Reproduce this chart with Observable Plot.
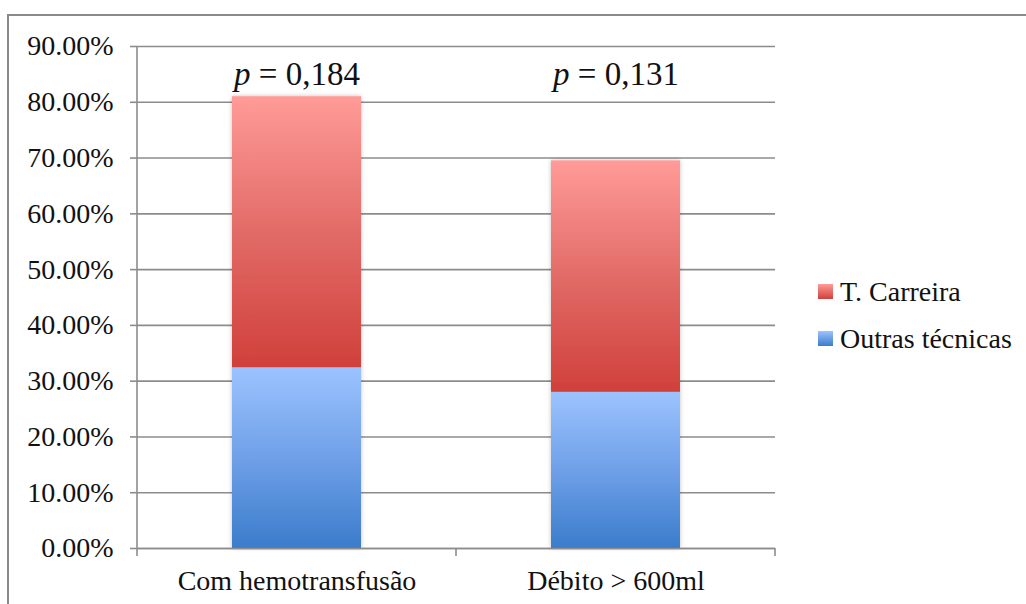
<!DOCTYPE html>
<html>
<head>
<meta charset="utf-8">
<script src="https://cdn.jsdelivr.net/npm/d3@7"></script>
<script src="https://cdn.jsdelivr.net/npm/@observablehq/plot@0.6"></script>
<style>
  html, body { margin: 0; padding: 0; background: #fff; }
  #wrap { position: relative; width: 1026px; height: 604px; overflow: hidden; font-family: "Liberation Serif", serif; }
  #border { position: absolute; left: 7px; top: 14px; width: 1030px; height: 700px; border-left: 2px solid #8a8a8a; border-top: 2px solid #8a8a8a; }
  #chart { position: absolute; left: 0; top: 0; }
  #legend { position: absolute; left: 818px; top: 268px; font-size: 28px; color: #111; }
  .item { display: flex; align-items: center; height: 47px; }
  .sw { width: 15px; height: 15px; margin-right: 7px; }
</style>
</head>
<body>
<div id="wrap">
  <div id="border"></div>
  <div id="chart"></div>
  <div id="legend"></div>
</div>
<script>
// Categories and series (percentages)
const categories = ["Com hemotransfusão", "Débito > 600ml"];
const series = ["Outras técnicas", "T. Carreira"];
const outrasTecnicas = [32.4, 28.0];
const tCarreira = [48.6, 41.5];
const pValues = ["0,184", "0,131"];
const yTicks = [0, 10, 20, 30, 40, 50, 60, 70, 80, 90];

// Gradient fills, top colour to bottom colour
const gradients = {
  "T. Carreira": {id: "gradRed", top: "#ff9b98", mid: "#e26b67", bottom: "#d0403b"},
  "Outras técnicas": {id: "gradBlue", top: "#9cc3ff", mid: "#6fa0e8", bottom: "#3b7ccb"}
};

const rows = [];
categories.forEach((c, i) => {
  rows.push({category: c, series: series[0], value: outrasTecnicas[i] / 100});
  rows.push({category: c, series: series[1], value: tCarreira[i] / 100});
});
const totals = categories.map((c, i) => ({category: c, total: (outrasTecnicas[i] + tCarreira[i]) / 100, p: pValues[i]}));

const grid = "#8c8c8c";

const plot = Plot.plot({
  width: 1026,
  height: 604,
  marginLeft: 137,
  marginRight: 251,
  marginTop: 46,
  marginBottom: 56,
  style: {fontFamily: "Liberation Serif, serif", fontSize: "28px", color: "#111", background: "transparent"},
  x: {domain: categories, paddingInner: 0.596, paddingOuter: 0.298, label: null},
  y: {domain: [0, 0.9], label: null},
  color: {domain: series, range: series.map(s => `url(#${gradients[s].id})`)},
  marks: [
    Plot.gridY(yTicks.map(t => t / 100), {stroke: grid, strokeOpacity: 1, strokeWidth: 1.6}),
    Plot.axisY(yTicks.map(t => t / 100), {
      tickFormat: d3.format(".2%"), tickSize: 7, tickPadding: 17, stroke: grid, strokeWidth: 1.6,
      fontSize: 28, fill: "#111"
    }),
    Plot.barY(rows, Plot.stackY({x: "category", y: "value", fill: "series", className: "bars"})),
    Plot.ruleY([0], {stroke: grid, strokeWidth: 1.6}),
    Plot.axisX({tickSize: 0, tickPadding: 22, fontSize: 28, fill: "#111"}),
    Plot.text(totals, {x: "category", text: d => "p = " + d.p, frameAnchor: "top", lineAnchor: "middle", dy: 28, fontSize: 33, fill: "#111", className: "pval"})
  ]
});

// Gradient and shadow definitions
const svg = d3.select(plot);
const defs = svg.insert("defs", ":first-child");
for (const s of series) {
  const g = gradients[s];
  const lg = defs.append("linearGradient").attr("id", g.id).attr("x1", 0).attr("y1", 0).attr("x2", 0).attr("y2", 1);
  lg.append("stop").attr("offset", "0%").attr("stop-color", g.top);
  lg.append("stop").attr("offset", "50%").attr("stop-color", g.mid);
  lg.append("stop").attr("offset", "100%").attr("stop-color", g.bottom);
}
const f = defs.append("filter").attr("id", "shadow").attr("x", "-10%").attr("y", "-10%").attr("width", "120%").attr("height", "120%");
f.append("feDropShadow").attr("dx", 0).attr("dy", 0).attr("stdDeviation", 2).attr("flood-color", "#000").attr("flood-opacity", 0.25);
svg.selectAll("g.bars").attr("filter", "url(#shadow)");

// Y axis line and category divider ticks along the x axis
const xs = plot.scale("x");
const ys = plot.scale("y");
const [x0] = xs.range;
const yBase = ys.apply(0);
const yTop = ys.apply(0.9);
const axes = svg.append("g").attr("stroke", grid).attr("stroke-width", 1.6);
axes.append("line").attr("x1", x0).attr("x2", x0).attr("y1", yTop).attr("y2", yBase);
const dividers = [x0, ...categories.map(c => xs.apply(c) + xs.bandwidth + (xs.step - xs.bandwidth) / 2)];
dividers.forEach(x => axes.append("line").attr("x1", x).attr("x2", x).attr("y1", yBase).attr("y2", yBase + 8));

// Italic "p" in the significance labels
svg.selectAll("g.pval text").each(function () {
  const t = d3.select(this);
  const s = t.text();
  t.text(null);
  t.append("tspan").attr("font-style", "italic").text("p");
  t.append("tspan").text(s.slice(1));
});

document.getElementById("chart").appendChild(plot);

// Legend, top series first
const legend = d3.select("#legend");
[...series].reverse().forEach(s => {
  const it = legend.append("div").attr("class", "item");
  const g = gradients[s];
  it.append("div").attr("class", "sw").style("background", `linear-gradient(${g.top}, ${g.bottom})`);
  it.append("span").text(s);
});
</script>
</body>
</html>
